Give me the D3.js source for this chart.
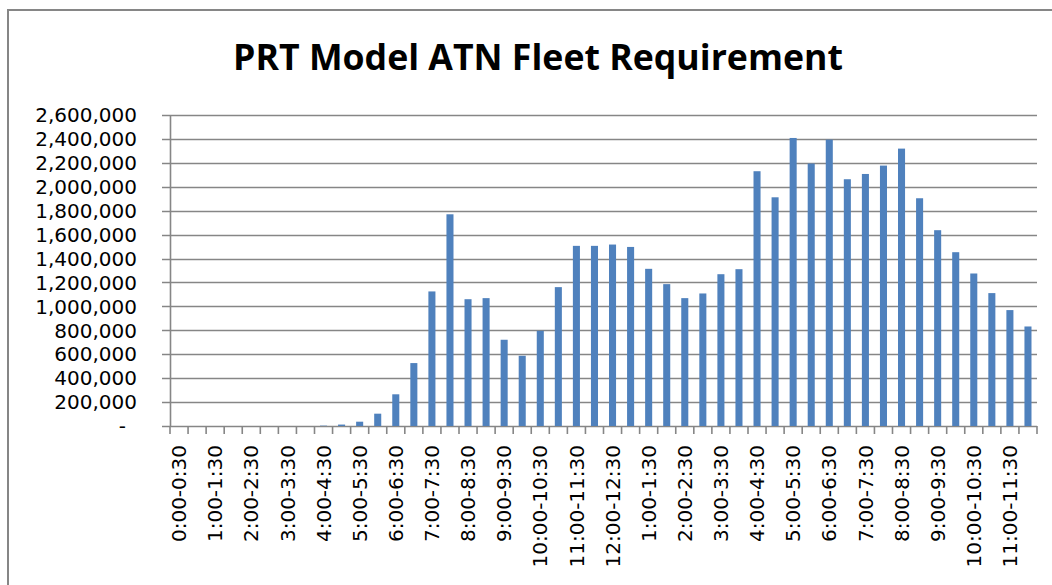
<!DOCTYPE html>
<html>
<head>
<meta charset="utf-8">
<script src="https://cdn.jsdelivr.net/npm/d3@7"></script>
<style>
  body { margin: 0; background: #fff; }
  svg { display: block; font-family: "Open Sans", sans-serif; }
  .ylab, .xlab { font-family: "DejaVu Sans", sans-serif; }
</style>
</head>
<body>
<div id="chart"></div>
<script>
// half-hour slots, AM then PM
var slots = ["0:00-0:30","0:30-1:00","1:00-1:30","1:30-2:00","2:00-2:30","2:30-3:00",
  "3:00-3:30","3:30-4:00","4:00-4:30","4:30-5:00","5:00-5:30","5:30-6:00",
  "6:00-6:30","6:30-7:00","7:00-7:30","7:30-8:00","8:00-8:30","8:30-9:00",
  "9:00-9:30","9:30-10:00","10:00-10:30","10:30-11:00","11:00-11:30","11:30-12:00",
  "12:00-12:30","12:30-1:00","1:00-1:30","1:30-2:00","2:00-2:30","2:30-3:00",
  "3:00-3:30","3:30-4:00","4:00-4:30","4:30-5:00","5:00-5:30","5:30-6:00",
  "6:00-6:30","6:30-7:00","7:00-7:30","7:30-8:00","8:00-8:30","8:30-9:00",
  "9:00-9:30","9:30-10:00","10:00-10:30","10:30-11:00","11:00-11:30","11:30-12:00"];

var fleet = [0, 0, 0, 0, 0, 0, 0, 0, 3000, 12000, 36000, 103000,
  265000, 526000, 1125000, 1770000, 1060000, 1069000, 721000, 587000, 796000, 1161000, 1506000, 1506000,
  1517000, 1497000, 1314000, 1186000, 1069000, 1108000, 1269000, 1311000, 2130000, 1912000, 2408000, 2194000,
  2394000, 2063000, 2107000, 2177000, 2319000, 1904000, 1637000, 1453000, 1275000, 1111000, 969000, 832000];

var yTicks = d3.range(0, 2600001, 200000);

var title = "PRT Model ATN Fleet Requirement";

var W = 1052, H = 585;

var svg = d3.select("#chart").append("svg")
  .attr("width", W)
  .attr("height", H);

// chart area border (only top/left visible)
svg.append("rect")
  .attr("x", 8).attr("y", 10)
  .attr("width", W + 20).attr("height", H + 20)
  .attr("fill", "#fff")
  .attr("stroke", "#868686")
  .attr("stroke-width", 2);

var t = svg.append("text")
  .attr("x", 538)
  .attr("y", 70)
  .attr("text-anchor", "middle")
  .attr("font-weight", "bold")
  .attr("font-size", 36)
  .attr("fill", "#000")
  .text(title);
// squeeze title to the width seen in the picture
var tw = t.node().getComputedTextLength();
t.attr("font-size", 36 * 610 / tw);

var xScale = d3.scaleBand()
  .domain(d3.range(slots.length))
  .range([170, 1037])
  .paddingInner(0.61)
  .paddingOuter(0.305);

var yScale = d3.scaleLinear()
  .domain([0, 2600000])
  .range([426, 115]);

var g = svg.append("g");

// gridlines
g.selectAll(".grid")
  .data(yTicks)
  .enter().append("line")
  .attr("class", "grid")
  .attr("x1", 162).attr("x2", 1037)
  .attr("y1", d => Math.round(yScale(d)) + 0.5)
  .attr("y2", d => Math.round(yScale(d)) + 0.5)
  .attr("stroke", "#868686")
  .attr("stroke-width", 1.6);

// y labels
var fmt = d3.format(",");
g.selectAll(".ylab")
  .data(yTicks)
  .enter().append("text")
  .attr("class", "ylab")
  .attr("x", d => d === 0 ? 126 : 137)
  .attr("y", d => yScale(d))
  .attr("dy", "0.36em")
  .attr("text-anchor", "end")
  .attr("font-size", 20)
  .attr("fill", "#000")
  .text(d => d === 0 ? "-" : fmt(d));

// bars
g.selectAll(".bar")
  .data(fleet)
  .enter().append("rect")
  .attr("class", "bar")
  .attr("x", (d, i) => xScale(i))
  .attr("width", xScale.bandwidth())
  .attr("y", d => yScale(d))
  .attr("height", d => yScale(0) - yScale(d))
  .attr("fill", "#4F81BD");

// y axis line
g.append("line")
  .attr("x1", 170.5).attr("x2", 170.5)
  .attr("y1", 115).attr("y2", 427)
  .attr("stroke", "#868686")
  .attr("stroke-width", 1.6);

// x tick marks at slot boundaries
var step = xScale.step();
g.selectAll(".xtick")
  .data(d3.range(slots.length + 1))
  .enter().append("line")
  .attr("class", "xtick")
  .attr("x1", i => 170 + i * step)
  .attr("x2", i => 170 + i * step)
  .attr("y1", 426).attr("y2", 434)
  .attr("stroke", "#868686")
  .attr("stroke-width", 1.6);

// x labels, every other slot
g.selectAll(".xlab")
  .data(d3.range(0, slots.length, 2))
  .enter().append("text")
  .attr("class", "xlab")
  .attr("transform", i => "translate(" + (xScale(i) + xScale.bandwidth() / 2) + ",445) rotate(-90)")
  .attr("dy", "0.36em")
  .attr("text-anchor", "end")
  .attr("font-size", 20)
  .attr("fill", "#000")
  .text(i => slots[i]);
</script>
</body>
</html>
